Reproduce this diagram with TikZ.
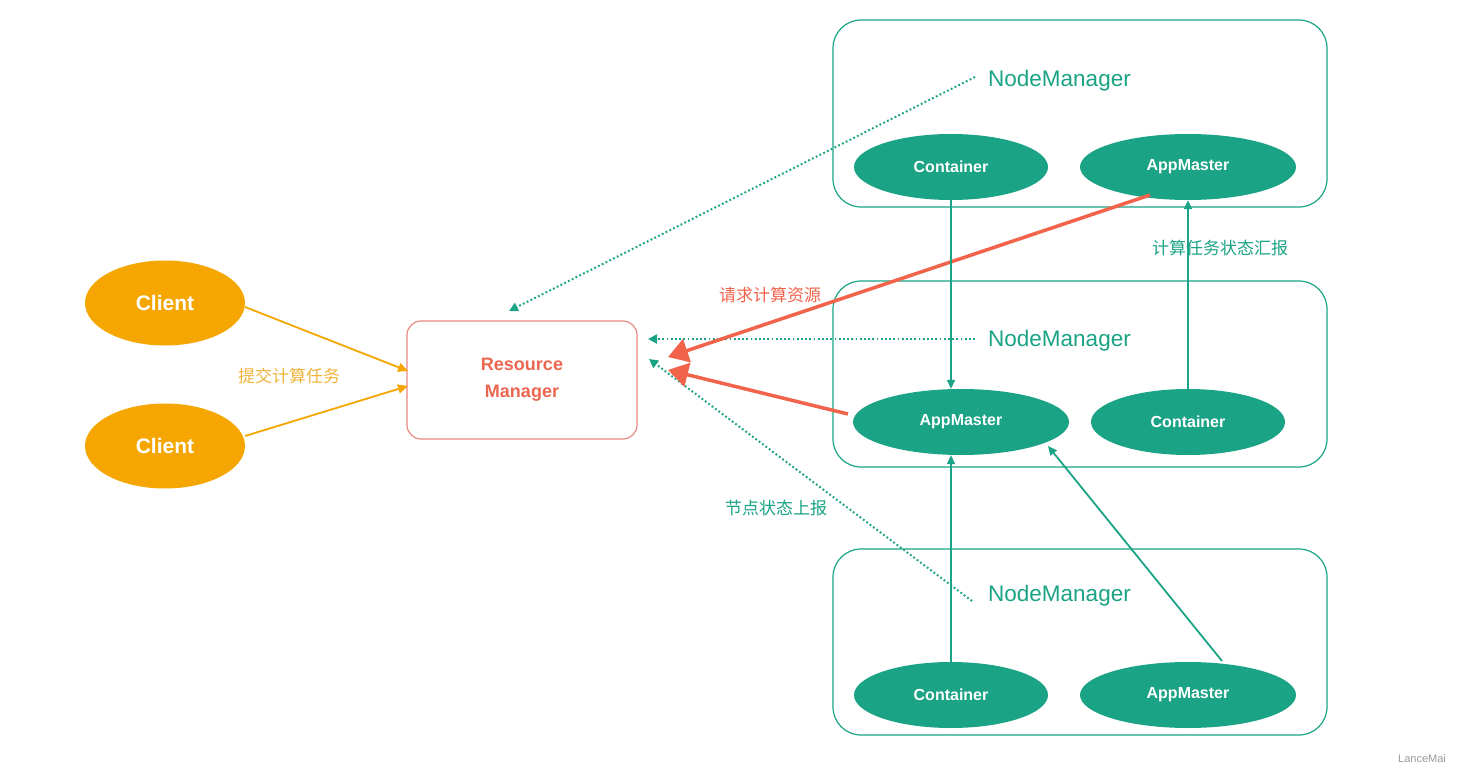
\documentclass[tikz,border=0pt]{standalone}
\usepackage{fontspec}
\setmainfont{Liberation Sans}
\newfontfamily\cjk{Noto Sans CJK SC}
\usetikzlibrary{shapes.geometric,arrows.meta}
\definecolor{teal1}{HTML}{1AA385}
\definecolor{orange1}{HTML}{F5A600}
\definecolor{orangetxt}{HTML}{F0B43A}
\definecolor{red1}{HTML}{F2634C}
\definecolor{rmborder}{HTML}{EA8A82}
\definecolor{rmtext}{HTML}{EC6650}
\definecolor{wm}{HTML}{9A9A9A}
\tikzset{
  client/.style={ellipse,fill=orange1,minimum width=160pt,minimum height=85pt,inner sep=0pt,text=white,font=\bfseries\fontsize{21}{24}\selectfont},
  tealell/.style={ellipse,fill=teal1,minimum height=66pt,inner sep=0pt,text=white,font=\bfseries\fontsize{16}{18}\selectfont},
  nmbox/.style={draw=teal1,line width=1.2pt,rounded corners=28pt},
  nmtext/.style={text=teal1,font=\fontsize{22.5}{26}\selectfont,inner sep=0pt},
  dotarrow/.style={teal1,line width=2pt,dash pattern=on 1.8pt off 2.4pt,-{Triangle[length=9pt,width=9pt]}},
  solarrow/.style={teal1,line width=1.8pt,-{Triangle[length=9pt,width=8pt]}},
  redarrow/.style={red1,line width=3.5pt,-{Triangle[length=20pt,width=24pt]}},
  orarrow/.style={orange1,line width=1.8pt,-{Triangle[length=10pt,width=9pt]}},
  cjklabel/.style={font=\cjk\fontsize{17}{20}\selectfont,inner sep=0pt},
}
\begin{document}
\begin{tikzpicture}[x=1pt,y=-1pt]
\useasboundingbox[fill=white] (0,0) rectangle (1460,773);
% NodeManager boxes
\draw[nmbox] (833,20) rectangle (1327,207);
\draw[nmbox] (833,281) rectangle (1327,467);
\draw[nmbox] (833,549) rectangle (1327,735);
% Clients
\node[client] (cl1) at (165,303) {Client};
\node[client] (cl2) at (165,446) {Client};
% Resource Manager
\node[draw=rmborder,line width=1.2pt,rounded corners=14pt,minimum width=230pt,minimum height=118pt,align=center,text=rmtext,font=\bfseries\fontsize{18}{27}\selectfont] (rm) at (522,380) {Resource\\Manager};
% NodeManager labels
\node[nmtext,anchor=west] (nm1) at (988,81) {NodeManager};
\node[nmtext,anchor=west] (nm2) at (988,341) {NodeManager};
\node[nmtext,anchor=west] (nm3) at (988,596) {NodeManager};
% coordinates
\coordinate (d1s) at (975,77);
\coordinate (d1e) at (509,311);
\coordinate (d2s) at (975,339);
\coordinate (d2e) at (648,339);
\coordinate (d3s) at (972,601);
\coordinate (d3e) at (649,359);
\coordinate (r1s) at (1150,195);
\coordinate (r1e) at (668,357);
\coordinate (r2s) at (848,414);
\coordinate (r2e) at (668,370);
\coordinate (o1s) at (245,307);
\coordinate (o1e) at (408,371);
\coordinate (o2s) at (245,436);
\coordinate (o2e) at (408,386);
\coordinate (a3s) at (1222,661);
\coordinate (a2e) at (1048,446);
% dotted arrows
\draw[dotarrow] (d1s) -- (d1e);
\draw[dotarrow] (d2s) -- (d2e);
\draw[dotarrow] (d3s) -- (d3e);
% ellipses
\node[tealell,minimum width=194pt] (c1) at (951,167) {Container};
\node[tealell,minimum width=216pt] (a1) at (1188,167) {AppMaster};
\node[tealell,minimum width=216pt] (a2) at (961,422) {AppMaster};
\node[tealell,minimum width=194pt] (c2) at (1188,422) {Container};
\node[tealell,minimum width=194pt] (c3) at (951,695) {Container};
\node[tealell,minimum width=216pt] (a3) at (1188,695) {AppMaster};
% orange arrows
\draw[orarrow] (o1s) -- (o1e);
\draw[orarrow] (o2s) -- (o2e);
\node[cjklabel,text=orangetxt] (lb1) at (289,376) {提交计算任务};
% red arrows
\draw[redarrow] (r1s) -- (r1e);
\draw[redarrow] (r2s) -- (r2e);
\node[cjklabel,text=red1] (lb2) at (770,295) {请求计算资源};
% solid teal arrows
\draw[solarrow] (c1.south) -- (c1.south |- a2.north);
\draw[solarrow] (c2.north) -- (c2.north |- a1.south);
\draw[solarrow] (c3.north) -- (c3.north |- a2.south);
\draw[solarrow] (a3s) -- (a2e);
\node[cjklabel,text=teal1] (lb3) at (1220,248) {计算任务状态汇报};
\node[cjklabel,text=teal1] (lb4) at (776,508) {节点状态上报};
% watermark
\node[text=wm,font=\fontsize{11}{13}\selectfont,inner sep=0pt] (wm) at (1422,759) {LanceMai};
\end{tikzpicture}
\end{document}
